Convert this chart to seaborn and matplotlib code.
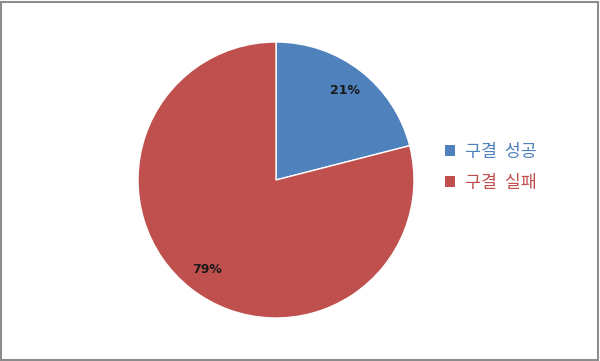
import matplotlib
matplotlib.use("Agg")
import matplotlib.pyplot as plt
import seaborn as sns
from matplotlib.patches import Rectangle

categories = ["구결 성공", "구결 실패"]
values = [21, 79]
colors = ["#4F81BD", "#C0504D"]

sns.set_style("white")
plt.rcParams['font.family'] = ['Noto Sans CJK KR', 'DejaVu Sans']

fig = plt.figure(figsize=(6.0, 3.61), dpi=100)
W, H = 600, 361
cx, cy, r = 276, 180, 138
ax = fig.add_axes([(cx - r) / W, (H - cy - r) / H, 2 * r / W, 2 * r / H])
wedges, texts, autotexts = ax.pie(
    values, colors=colors, startangle=90, counterclock=False,
    autopct=lambda p: f"{p:.0f}%", pctdistance=0.82, radius=1,
    wedgeprops=dict(linewidth=1, edgecolor="white"),
    textprops=dict(fontsize=9, fontweight="bold", color="#1a1a1a", family=['DejaVu Sans']))
ax.set_xlim(-1, 1)
ax.set_ylim(-1, 1)
ax.set_aspect("equal")
ax.axis("off")

leg = fig.legend(wedges, [c.replace(" ", "  ") for c in categories], loc="center left",
                 bbox_to_anchor=(438 / W, 1 - 167.5 / H), frameon=False,
                 borderaxespad=0, fontsize=12.5, handlelength=0.6, handleheight=0.6,
                 handletextpad=0.55, labelspacing=0.75)
for t, c in zip(leg.get_texts(), colors):
    t.set_color(c)
for h in leg.legend_handles:
    h.set_edgecolor("none")

fig.patches.append(Rectangle((0.002, 0.003), 0.994, 0.992, transform=fig.transFigure,
                             fill=False, edgecolor="#8c8c8c", linewidth=1.5))
fig.savefig("out.png", dpi=100)
